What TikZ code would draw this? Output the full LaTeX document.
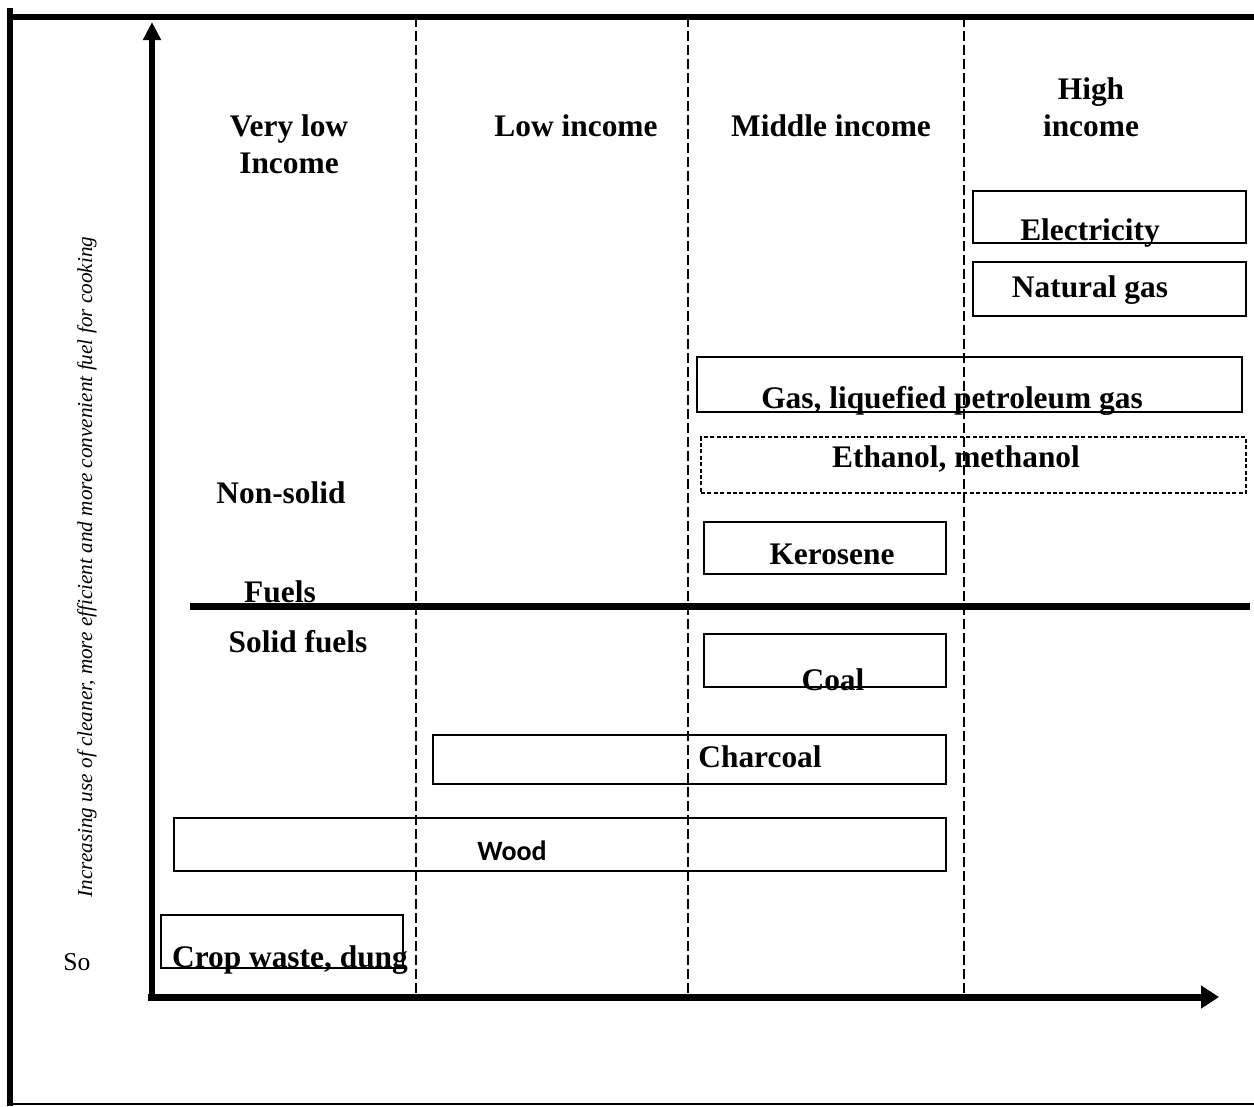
\documentclass[tikz,border=0pt]{standalone}
\usepackage{fontspec}
\setmainfont{Liberation Serif}
\newfontfamily\woodfont{Carlito}
\usetikzlibrary{arrows.meta,fit}
\begin{document}
\begin{tikzpicture}[x=0.5bp,y=-0.5bp,
  frameline/.style={line width=3.2bp},
  axisline/.style={line width=3bp},
  divider/.style={line width=1.2bp, dash pattern=on 5bp off 2bp},
  fuelbox/.style={draw, line width=1bp, inner sep=0pt, outer sep=0pt},
  dbox/.style={fuelbox, dash pattern=on 2bp off 1.2bp},
  lbl/.style={font=\fontsize{15.7bp}{18.5bp}\selectfont\bfseries, inner sep=0pt, anchor=base},
]
\fill[white] (0,0) rectangle (1254,1106);
\useasboundingbox (0,0) rectangle (1254,1106);

% outer frame
\draw[line width=3bp] (10,8) -- (10,1106);
\draw[frameline] (8,17) -- (1254,17);
\draw[line width=1bp] (10,1104) -- (1254,1104);

% fuel boxes
\node[fuelbox, fit={(973,191) (1246,243)}] (bElec) {};
\node[fuelbox, fit={(973,262) (1246,316)}] (bNat) {};
\node[fuelbox, fit={(697,357) (1242,412)}] (bLpg) {};
\node[dbox, fit={(701,437) (1246,493)}] (bEth) {};
\node[fuelbox, fit={(704,522) (946,574)}] (bKer) {};
\node[fuelbox, fit={(704,634) (946,687)}] (bCoal) {};
\node[fuelbox, fit={(433,735) (946,784)}] (bChar) {};
\node[fuelbox, fit={(174,818) (946,871)}] (bWood) {};
\node[fuelbox, fit={(161,915) (403,968)}] (bCrop) {};

% fuel labels
\node[lbl] (tElec) at (1090,240) {Electricity};
\node[lbl] (tNat) at (1090,297) {Natural gas};
\node[lbl] (tLpg) at (952,408) {Gas, liquefied petroleum gas};
\node[lbl] (tEth) at (956,467) {Ethanol, methanol};
\node[lbl] (tKer) at (832,564) {Kerosene};
\node[lbl] (tCoal) at (833,690) {Coal};
\node[lbl] (tChar) at (760,767) {Charcoal};
\node[lbl, font=\woodfont\fontsize{14bp}{16bp}\selectfont\bfseries] (tWood) at (512,860) {Wood};
\node[lbl] (tCrop) at (290,967) {Crop waste, dung};

% income headers
\node[lbl, align=center] (hVery) at (289,173) {Very low\\Income};
\node[lbl] (hLow) at (576,136) {Low income};
\node[lbl] (hMid) at (831,136) {Middle income};
\node[lbl, align=center] (hHigh) at (1091,136) {High\\income};

% category labels
\node[lbl] (cNon) at (281,503) {Non-solid};
\node[lbl] (cFuels) at (280,602) {Fuels};
\node[lbl] (cSolid) at (298,652) {Solid fuels};
\node[inner sep=0pt, anchor=base, font=\fontsize{12.8bp}{15bp}\selectfont] (cSo) at (77,970) {So};

% axis label
\node[inner sep=0pt, rotate=90, font=\fontsize{10.6bp}{12bp}\selectfont\itshape] (yl) at (87,567)
  {Increasing use of cleaner, more efficient and more convenient fuel for cooking};

% dividers
\coordinate (d1t) at (416,17); \coordinate (d1b) at (416,997);
\coordinate (d2t) at (688,17); \coordinate (d2b) at (688,997);
\coordinate (d3t) at (964,17); \coordinate (d3b) at (964,997);
\draw[divider] (d1t) -- (d1b);
\draw[divider] (d2t) -- (d2b);
\draw[divider] (d3t) -- (d3b);

% solid / non-solid separator
\coordinate (sepL) at (190,606); \coordinate (sepR) at (1250,606);
\draw[line width=3.5bp] (sepL) -- (sepR);

% axes
\coordinate (yO) at (152,1000);
\coordinate (yT) at (152,22);
\coordinate (xO) at (148,997);
\coordinate (xT) at (1219,997);
\draw[axisline, -{Triangle[length=9bp,width=8.5bp]}] (yO) -- (yT);
\draw[line width=3.5bp, -{Triangle[length=9bp,width=11bp]}] (xO) -- (xT);
\end{tikzpicture}
\end{document}
